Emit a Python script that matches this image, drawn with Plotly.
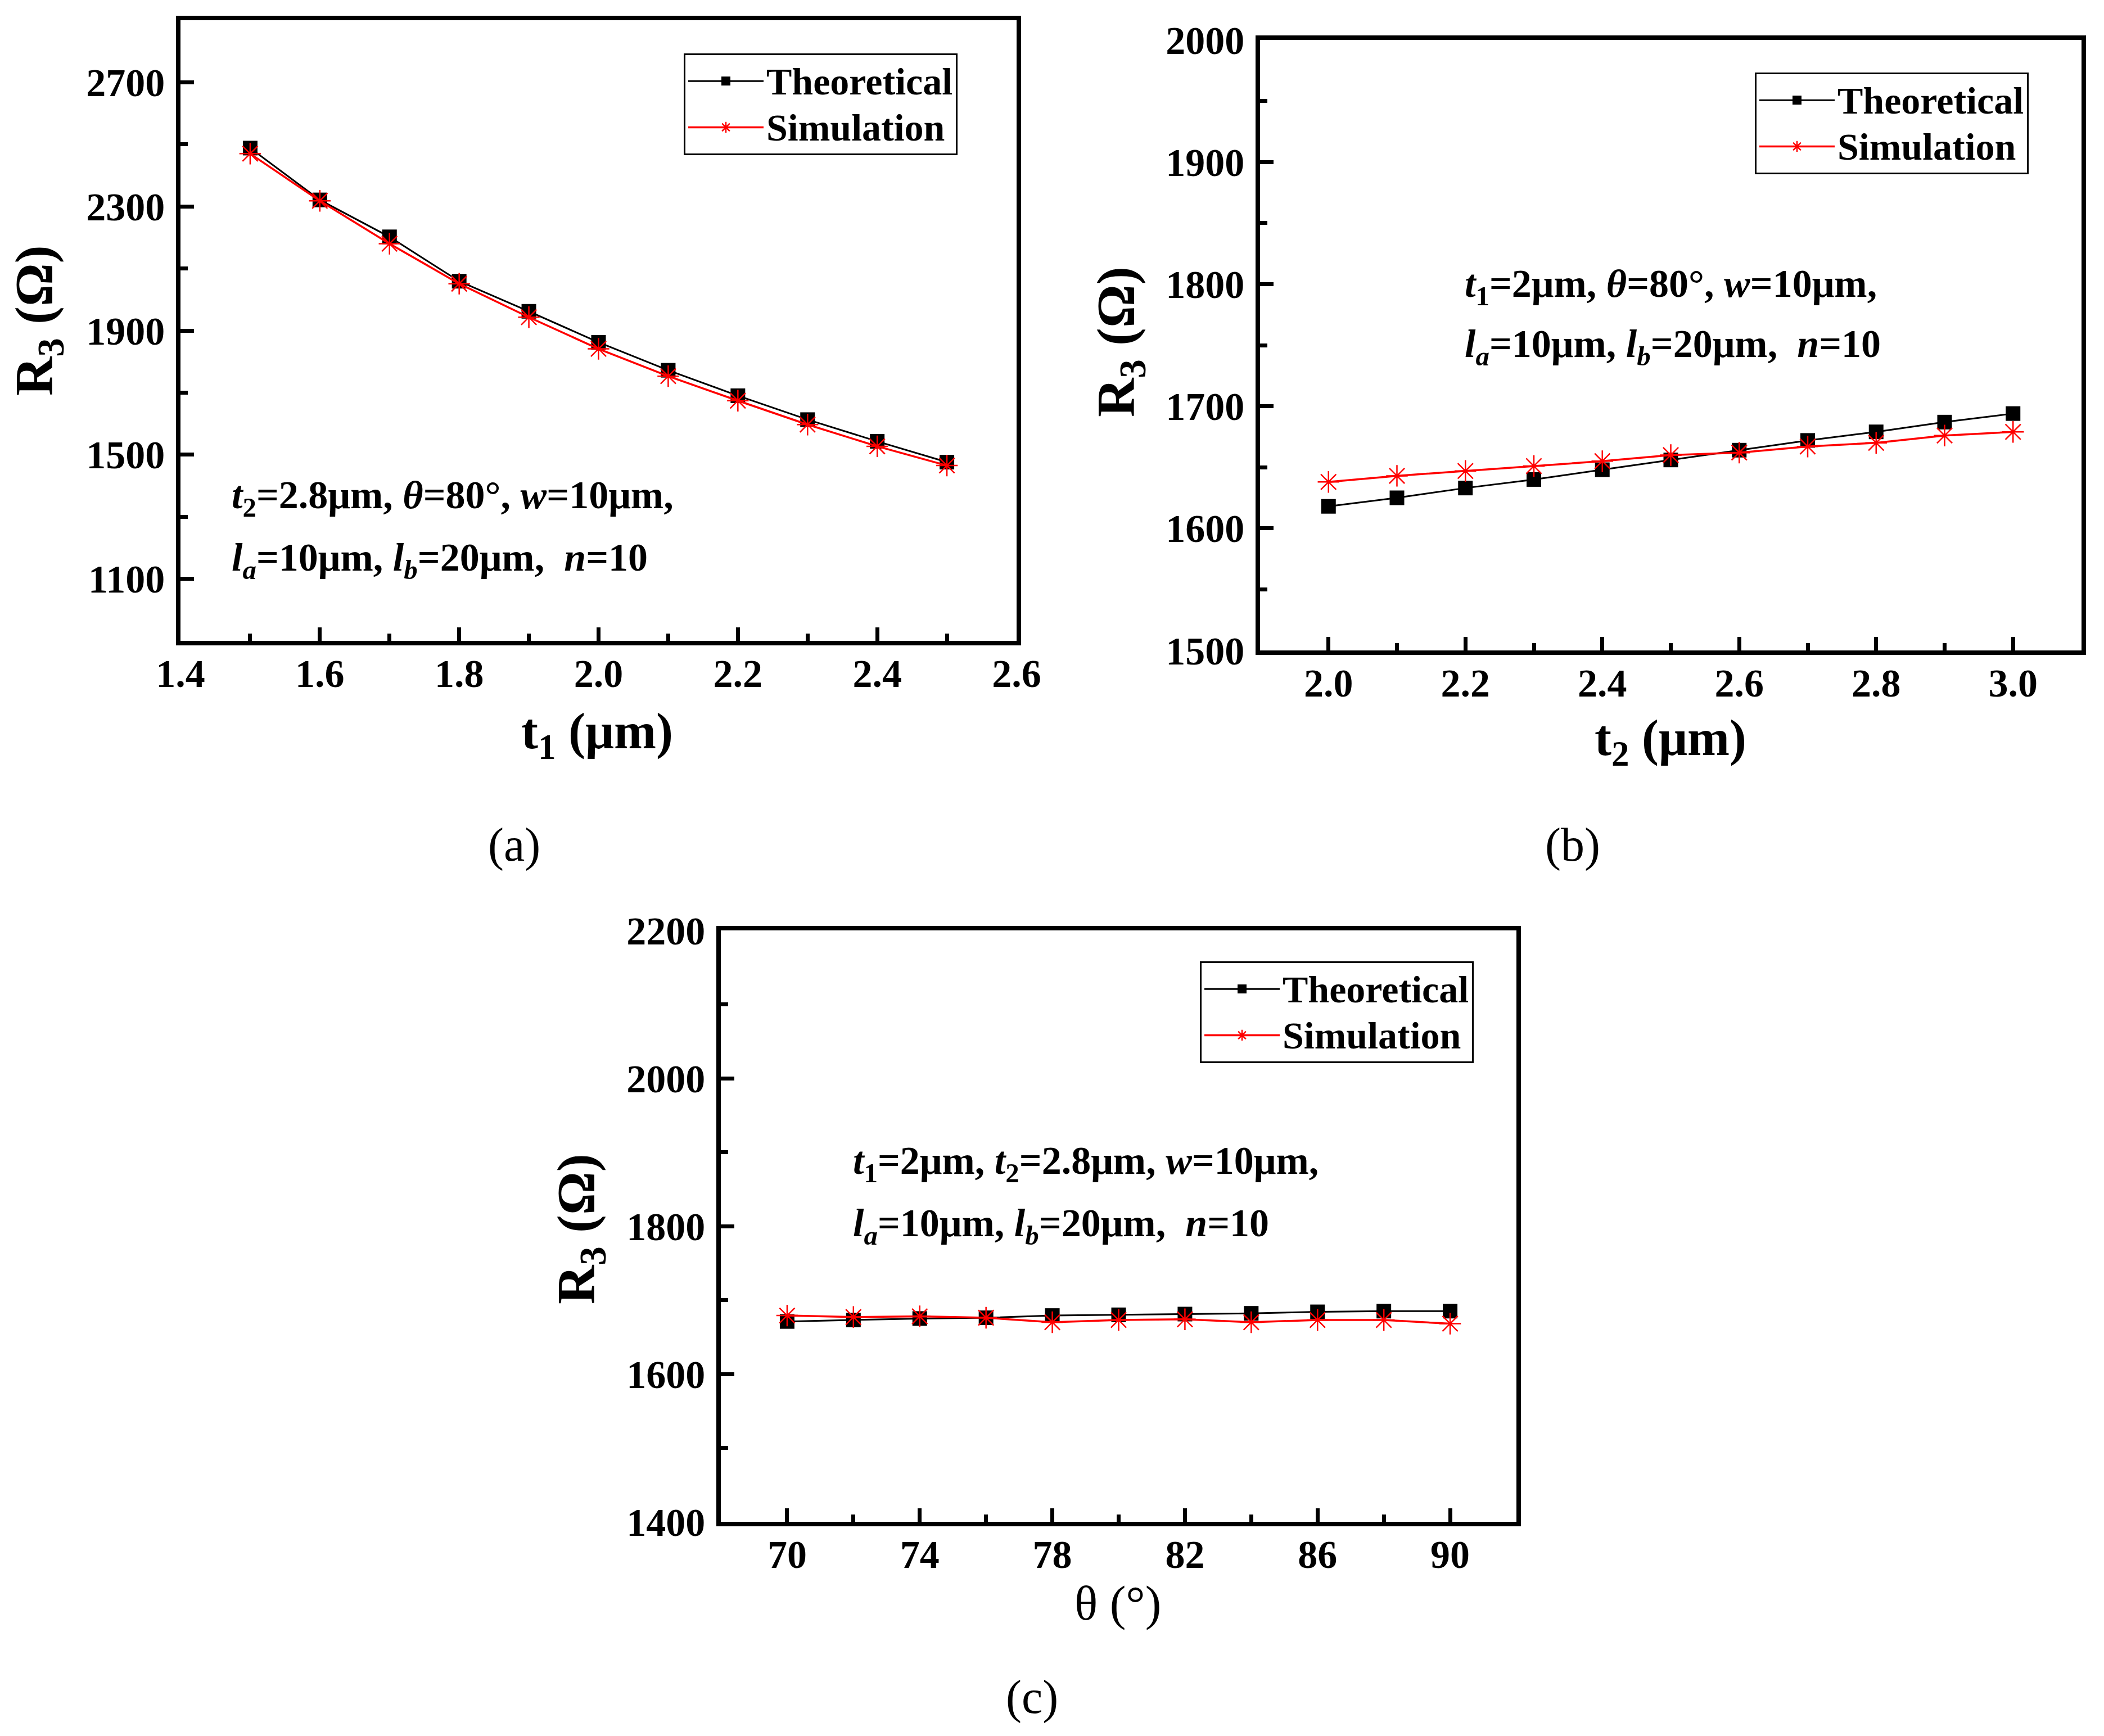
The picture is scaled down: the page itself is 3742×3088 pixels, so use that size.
import plotly.graph_objects as go

# ---------------- data ----------------
t1_um = [1.5, 1.6, 1.7, 1.8, 1.9, 2.0, 2.1, 2.2, 2.3, 2.4, 2.5]
r3_t1_theory = [2488, 2321, 2202, 2059, 1962, 1862, 1772, 1690, 1613, 1543, 1476]
r3_t1_sim = [2470, 2318, 2180, 2051, 1943, 1841, 1753, 1674, 1597, 1527, 1465]

t2_um = [2.0, 2.1, 2.2, 2.3, 2.4, 2.5, 2.6, 2.7, 2.8, 2.9, 3.0]
r3_t2_theory = [1618, 1625, 1633, 1640, 1648, 1656, 1664, 1672, 1679, 1687, 1694]
r3_t2_sim = [1638, 1643, 1647, 1651, 1655, 1660, 1662, 1667, 1670, 1676, 1679]

theta_deg = [70, 72, 74, 76, 78, 80, 82, 84, 86, 88, 90]
r3_theta_theory = [1671, 1673, 1675, 1676, 1679, 1680, 1681, 1682, 1684, 1685, 1685]
r3_theta_sim = [1679, 1677, 1678, 1676, 1670, 1673, 1674, 1670, 1673, 1673, 1668]

series_names = ["Theoretical", "Simulation"]

W, H = 3742, 3088
OFF = 8  # default body margin of the html page
FONT = "Liberation Serif"


def fx(p):
    return (p - OFF) / W


def fy(p):
    return 1 - (p - OFF) / H


def legend_label(s):
    return '<span style="font-size:68px">' + s + '</span>'


fig = go.Figure()

panels = [
    (t1_um, r3_t1_theory, r3_t1_sim, "x", "y", "legend"),
    (t2_um, r3_t2_theory, r3_t2_sim, "x2", "y2", "legend2"),
    (theta_deg, r3_theta_theory, r3_theta_sim, "x3", "y3", "legend3"),
]
for xs, th, sim, xa, ya, lg in panels:
    fig.add_trace(go.Scatter(
        x=xs, y=th, mode="lines+markers", name=legend_label(series_names[0]),
        line=dict(color="black", width=3),
        marker=dict(symbol="square", size=26, color="black"),
        xaxis=xa, yaxis=ya, legend=lg))
    fig.add_trace(go.Scatter(
        x=xs, y=sim, mode="lines+markers", name=legend_label(series_names[1]),
        line=dict(color="red", width=3.5),
        marker=dict(symbol="asterisk-open", size=32, color="red",
                    line=dict(color="red", width=2.5)),
        xaxis=xa, yaxis=ya, legend=lg))


def ax(domain, rng, dtick, tick0, minor_dtick, anchor, fmt=None):
    d = dict(domain=domain, range=rng, dtick=dtick, tick0=tick0,
             anchor=anchor, automargin=False,
             showline=True, linewidth=7.5, linecolor="black",
             mirror=True, ticks="inside", ticklen=24, tickwidth=7,
             tickcolor="black", showgrid=False, zeroline=False,
             tickfont=dict(family=FONT, size=70, color="black", weight="bold"),
             minor=dict(ticks="inside", ticklen=13, tickwidth=7,
                        tickcolor="black", dtick=minor_dtick, tick0=tick0,
                        showgrid=False))
    if fmt:
        d["tickformat"] = fmt
    return d


# panel boxes (page pixel positions of the plotting area)
A = dict(l=321, r=1808, t=36, b=1140)
B = dict(l=2241, r=3702, t=71, b=1157)
C = dict(l=1282, r=2697, t=1655, b=2707)

layout = dict(
    width=W, height=H, margin=dict(l=0, r=0, t=0, b=0, autoexpand=False),
    paper_bgcolor="white", plot_bgcolor="white", showlegend=True,
    font=dict(family=FONT, color="black"),
)
layout["xaxis"] = ax([fx(A["l"]), fx(A["r"])], [1.4, 2.6], 0.2, 1.4, 0.1, "y", ".1f")
layout["yaxis"] = ax([fy(A["b"]), fy(A["t"])], [900, 2900], 400, 1100, 200, "x")
layout["xaxis2"] = ax([fx(B["l"]), fx(B["r"])], [1.9, 3.1], 0.2, 2.0, 0.1, "y2", ".1f")
layout["yaxis2"] = ax([fy(B["b"]), fy(B["t"])], [1500, 2000], 100, 1500, 50, "x2")
layout["xaxis3"] = ax([fx(C["l"]), fx(C["r"])], [68, 92], 4, 70, 2, "y3")
layout["yaxis3"] = ax([fy(C["b"]), fy(C["t"])], [1400, 2200], 200, 1400, 100, "x3")
for k in ["xaxis", "xaxis2", "xaxis3"]:
    layout[k]["ticklabelstandoff"] = -10
for k in ["yaxis", "yaxis2", "yaxis3"]:
    layout[k]["ticklabelstandoff"] = 6


def leg(left, top):
    return dict(x=fx(left), y=fy(top), xanchor="left", yanchor="top",
                xref="paper", yref="paper",
                bgcolor="white", bordercolor="black", borderwidth=3,
                font=dict(family=FONT, size=61, color="black", weight="bold"),
                itemwidth=134, tracegroupgap=0)


layout["legend"] = leg(1216, 95)
layout["legend2"] = leg(3121, 129)
layout["legend3"] = leg(2134, 1710)

fig.update_layout(**layout)

NB = "\u00a0"
line2 = "<i>l</i><sub><i>a</i></sub>=10μm, <i>l</i><sub><i>b</i></sub>=20μm," + NB + " <i>n</i>=10"
notes = [
    (410, 886, "<i>t</i><sub>2</sub>=2.8μm, <i>θ</i>=80°, <i>w</i>=10μm,"),
    (410, 997, line2),
    (2603, 510, "<i>t</i><sub>1</sub>=2μm, <i>θ</i>=80°, <i>w</i>=10μm,"),
    (2603, 617, line2),
    (1515, 2070, "<i>t</i><sub>1</sub>=2μm, <i>t</i><sub>2</sub>=2.8μm, <i>w</i>=10μm,"),
    (1515, 2181, line2),
]
for x, y, txt in notes:
    fig.add_annotation(x=fx(x), y=fy(y), xref="paper", yref="paper",
                       xanchor="left", yanchor="middle", showarrow=False,
                       text=txt, font=dict(family=FONT, size=70, color="black", weight="bold"))

# axis titles
ytitle = "R<sub>3</sub> (Ω)"
for x, y in [(68, 570), (1991, 608), (1031, 2186)]:
    fig.add_annotation(x=fx(x), y=fy(y), xref="paper", yref="paper",
                       xanchor="center", yanchor="middle", showarrow=False,
                       textangle=-90, text=ytitle,
                       font=dict(family=FONT, size=96, color="black", weight="bold"))
for x, y, txt, wt in [(1062, 1308, "t<sub>1</sub> (μm)", "bold"),
                      (2971, 1320, "t<sub>2</sub> (μm)", "bold"),
                      (1988, 2852, "θ (°)", "normal")]:
    fig.add_annotation(x=fx(x), y=fy(y), xref="paper", yref="paper",
                       xanchor="center", yanchor="middle", showarrow=False,
                       text=txt,
                       font=dict(family=FONT, size=90 if wt == "bold" else 86,
                                 color="black", weight=wt))

# panel labels
for x, y, txt in [(914, 1503, "(a)"), (2797, 1503, "(b)"), (1835, 3019, "(c)")]:
    fig.add_annotation(x=fx(x), y=fy(y), xref="paper", yref="paper",
                       xanchor="center", yanchor="middle", showarrow=False,
                       text=txt, font=dict(family=FONT, size=84, color="black"))

fig.write_html("out.html")
